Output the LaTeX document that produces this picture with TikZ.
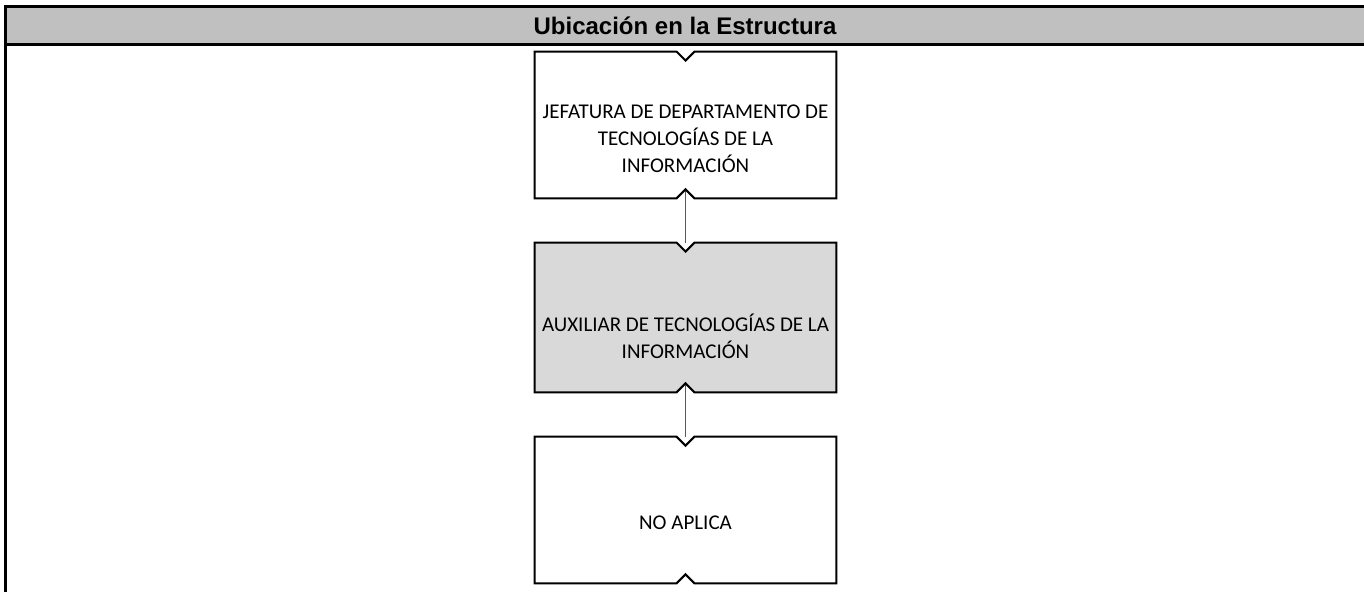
\documentclass[tikz,border=0pt]{standalone}
\usepackage{fontspec}
\setmainfont{Carlito}
\newfontfamily\headfont{Liberation Sans}
\usetikzlibrary{calc}
\definecolor{encabezado}{HTML}{C0C0C0}
\definecolor{grispuesto}{HTML}{D9D9D9}
\tikzstyle{puesto}=[rectangle, inner sep=0pt, minimum width=150.5pt, minimum height=73pt]
\tikzstyle{texto}=[align=center, inner sep=0pt, font=\fontsize{10.5}{13.5}\selectfont]
\tikzstyle{conector}=[draw=black!65, line width=0.5pt]
\newcommand{\contorno}[2]{\filldraw[line width=1pt, fill=#2] (#1.north west) -- ($(#1.north)+(-9,0)$) -- ($(#1.north)+(0,9)$) -- ($(#1.north)+(9,0)$) -- (#1.north east) -- (#1.south east) -- ($(#1.south)+(9,0)$) -- ($(#1.south)+(0,-9)$) -- ($(#1.south)+(-9,0)$) -- (#1.south west) -- cycle;}

\begin{document}
\begin{tikzpicture}[x=0.5pt, y=-0.5pt]
    \useasboundingbox (0,0) rectangle (1364,592);
    \fill[encabezado] (5,7) rectangle (1364,45);
    \draw[line width=1.5pt] (1364,7) -- (5,7) -- (5,592);
    \draw[line width=1.5pt] (5,45) -- (1364,45);
    \node[font=\headfont\bfseries\fontsize{12}{14}\selectfont] (titulo) at (685,26) {Ubicación en la Estructura};
    \node[puesto] (jefe) at (685.5,125) {};
    \node[puesto, minimum height=74.5pt] (aux) at (685.5,317.5) {};
    \node[puesto] (noap) at (685.5,510) {};
    \draw[conector] ($(jefe.south)+(0,-9)$) -- (aux.north);
    \draw[conector] ($(aux.south)+(0,-9)$) -- (noap.north);
    \contorno{jefe}{white}
    \contorno{aux}{grispuesto}
    \contorno{noap}{white}
    \node[texto] (jefet) at (685.5,139) {JEFATURA DE DEPARTAMENTO DE\\TECNOLOGÍAS DE LA\\INFORMACIÓN};
    \node[texto] (auxt) at (685.5,336) {AUXILIAR DE TECNOLOGÍAS DE LA\\INFORMACIÓN};
    \node[texto] (noapt) at (685.5,523) {NO APLICA};
\end{tikzpicture}
\end{document}
